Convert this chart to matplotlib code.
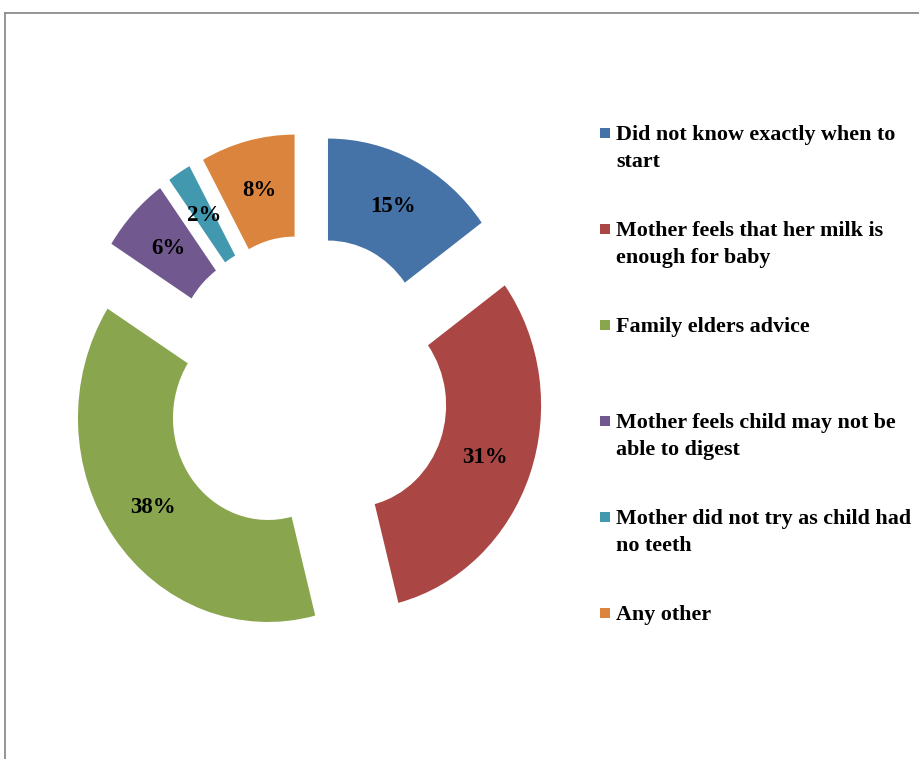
import matplotlib
matplotlib.use("Agg")
import matplotlib.pyplot as plt
from matplotlib.lines import Line2D
from matplotlib.patches import Rectangle

categories = [
    "Did not know exactly when to\nstart",
    "Mother feels that her milk is\nenough for baby",
    "Family elders advice",
    "Mother feels child may not be\nable to digest",
    "Mother did not try as child had\nno teeth",
    "Any other",
]
values = [15, 31, 38, 6, 2, 8]
colors = ["#4572A7", "#AA4643", "#89A54E", "#71588F", "#4198AF", "#DB843D"]

W, H = 920, 759
fig = plt.figure(figsize=(W / 100, H / 100), dpi=100)
ax = fig.add_axes([0, 0, 1, 1])

wedges, texts, autotexts = ax.pie(
    values,
    colors=colors,
    startangle=90,
    counterclock=False,
    explode=[0.25] * len(values),
    radius=1.0,
    wedgeprops=dict(width=0.5, linewidth=0),
    autopct=lambda p: f"{p:.0f}%",
    pctdistance=0.75,
    textprops=dict(family="Liberation Serif", fontweight="bold", fontsize=16.5, color="black"),
)

# pixel mapping: centre at (306, 388) px, 1 unit = 190 px horizontally, 204 px vertically
cx, cy, sx, sy = 306.4, 388.0, 190.0, 204.0
ax.set_aspect("auto")
ax.set_xlim(-cx / sx, (W - cx) / sx)
ax.set_ylim((cy - H) / sy, cy / sy)
ax.axis("off")

# legend drawn manually
leg_x_text = 616
leg_y0 = 140  # baseline of first line of first entry (px from top)
step = 96
line_gap = 27
for i, (lab, col) in enumerate(zip(categories, colors)):
    base = leg_y0 + step * i
    for k, line in enumerate(lab.split("\n")):
        fig.text(leg_x_text / W, 1 - (base + k * line_gap) / H, line,
                 family="Liberation Serif", fontweight="bold", fontsize=15.8,
                 ha="left", va="baseline")
    sq = 10.5
    fig.add_artist(Rectangle((600 / W, 1 - (base - 7 + sq / 2) / H), sq / W, sq / H,
                             transform=fig.transFigure, facecolor=col, edgecolor="none"))

# border lines (top and left)
fig.add_artist(Line2D([5 / W, 1], [1 - 12.5 / H, 1 - 12.5 / H], transform=fig.transFigure,
                      color="#8c8c8c", linewidth=1.3))
fig.add_artist(Line2D([5.5 / W, 5.5 / W], [1 - 12.5 / H, 0], transform=fig.transFigure,
                      color="#8c8c8c", linewidth=1.3))

fig.savefig("out.png", dpi=100)
